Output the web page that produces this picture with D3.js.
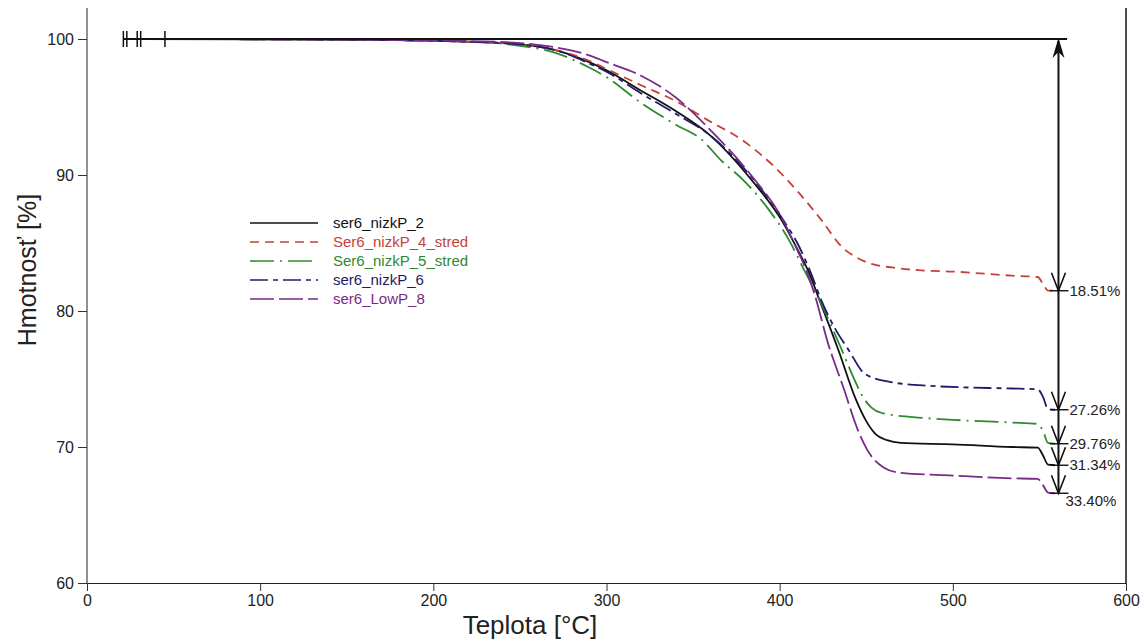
<!doctype html>
<html lang="cs">
<head>
    <title>TGA ser6</title>
    <script src="https://d3js.org/d3.v7.min.js"></script>
    <style>
        body { margin: 0; background: #fff; }
        svg text { font-family: "Liberation Sans", Arial, sans-serif; fill: #222; }
    </style>
</head>
<body>
<script>
    // Series names, colours and dash styles
    var names   = ["ser6_nizkP_2", "Ser6_nizkP_4_stred", "Ser6_nizkP_5_stred", "ser6_nizkP_6", "ser6_LowP_8"];
    var colors  = ["#111111", "#c7403a", "#2f8a2f", "#1c1c6a", "#7a2a88"];
    var dashes  = ["none", "9,6", "24,6,2,6", "18,5,5,5", "24,5"];

    // [temperature °C, mass %]
    var nizkP2 = [[29,100],[150,99.95],[220,99.8],[250,99.6],[270,99.2],[290,98.3],[300,97.7],[320,96.2],[340,94.7],[360,92.9],[384,89.6],[401,86.7],[410,84.6],[417,82.8],[423,80.8],[434,77.1],[444,73.5],[450,71.9],[455,71.0],[462,70.5],[470,70.3],[500,70.2],[534,70.0],[549,69.95],[552,69.4],[555,68.7],[559,68.66]];
    var nizkP4 = [[45,100],[150,99.95],[220,99.8],[250,99.6],[270,99.2],[290,98.4],[300,97.8],[320,96.6],[339,95.5],[359,94.0],[378,92.6],[397,90.6],[411,88.7],[424,86.7],[436,84.7],[445,83.9],[452,83.5],[465,83.2],[480,83.0],[500,82.9],[534,82.6],[549,82.5],[552,82.0],[555,81.5],[559,81.49]];
    var nizkP5 = [[23,100],[150,99.95],[220,99.8],[250,99.5],[270,99.0],[290,97.9],[300,97.2],[320,95.3],[340,93.7],[355,92.6],[366,91.1],[380,89.5],[394,87.4],[405,85.3],[415,82.8],[423,80.8],[436,77.1],[443,75.0],[448,73.7],[453,72.9],[459,72.5],[477,72.2],[500,72.0],[534,71.8],[549,71.7],[552,71.2],[555,70.3],[559,70.24]];
    var nizkP6 = [[31,100],[150,99.95],[220,99.8],[250,99.6],[270,99.2],[290,98.2],[300,97.6],[320,96.0],[340,94.5],[360,92.9],[384,89.8],[401,86.9],[411,84.8],[418,82.8],[424,80.8],[432,78.7],[440,77.1],[449,75.4],[463,74.8],[486,74.5],[534,74.3],[549,74.25],[552,73.7],[555,72.8],[559,72.74]];
    var lowP8  = [[21,100],[150,99.95],[220,99.85],[250,99.7],[270,99.4],[290,98.8],[300,98.3],[320,97.3],[340,95.7],[360,93.3],[384,89.9],[401,86.9],[409,84.8],[416,82.8],[420,81.3],[428,77.6],[437,74.3],[445,71.3],[452,69.5],[460,68.5],[470,68.1],[500,67.9],[534,67.7],[549,67.65],[552,67.2],[555,66.65],[559,66.6]];
    var series = [nizkP2, nizkP4, nizkP5, nizkP6, lowP8];

    // Mass losses shown on the right
    var losses = [18.51, 27.26, 29.76, 31.34, 33.40];
    var arrowT = 561;
    var baseEnd = 566;

    var xTicks = [0, 100, 200, 300, 400, 500, 600];
    var yTicks = [60, 70, 80, 90, 100];

    var width = 1147, height = 641;
    var svg = d3.select("body").append("svg")
        .attr("width", width)
        .attr("height", height);

    var x = d3.scaleLinear().domain([0, 600]).range([87, 1126]);
    var y = d3.scaleLinear().domain([60, 102.28]).range([583, 8]);

    // Axes
    var xAxis = svg.append("g").attr("transform", "translate(0," + y(60) + ")");
    xAxis.call(d3.axisBottom(x).tickValues(d3.range(0, 601, 25)).tickSize(5).tickFormat(""));
    xAxis.call(d3.axisBottom(x).tickValues(xTicks).tickSize(8).tickPadding(4));
    xAxis.selectAll(".domain").attr("stroke", "#222");
    xAxis.selectAll("line").attr("stroke", "#333");
    xAxis.selectAll("text").style("font-size", "16px").attr("fill", "#222");

    var yAxis = svg.append("g").attr("transform", "translate(" + x(0) + ",0)");
    yAxis.call(d3.axisLeft(y).tickValues(d3.range(60, 102.5, 2.5)).tickSize(6).tickFormat(""));
    yAxis.call(d3.axisLeft(y).tickValues(yTicks).tickSize(9).tickPadding(4));
    yAxis.selectAll(".domain").attr("stroke", "#222").attr("d", "M0," + y(102.28) + "V" + y(60));
    yAxis.selectAll("line").attr("stroke", "#333");
    yAxis.selectAll("text").style("font-size", "16px").attr("fill", "#222");

    // Right frame line
    svg.append("line")
        .attr("x1", x(600)).attr("x2", x(600))
        .attr("y1", y(102.28)).attr("y2", y(60))
        .attr("stroke", "#111").attr("stroke-width", 1.5);

    // Axis titles
    svg.append("text")
        .attr("x", 530).attr("y", 634)
        .attr("text-anchor", "middle")
        .style("font-size", "26px")
        .text("Teplota [°C]");

    svg.append("text")
        .attr("transform", "translate(36,270) rotate(-90)")
        .attr("text-anchor", "middle")
        .style("font-size", "25px")
        .text("Hmotnosť [%]");

    // Curves
    var line = d3.line()
        .x(function(d) { return x(d[0]); })
        .y(function(d) { return y(d[1]); })
        .curve(d3.curveMonotoneX);

    svg.selectAll(".curve")
        .data(series)
        .enter()
        .append("path")
        .attr("class", "curve")
        .attr("d", line)
        .attr("fill", "none")
        .attr("stroke", function(d, i) { return colors[i]; })
        .attr("stroke-width", 1.8)
        .attr("stroke-dasharray", function(d, i) { return dashes[i]; });

    // 100 % baseline with start markers
    var startT = series.map(function(s) { return s[0][0]; });
    svg.append("line")
        .attr("x1", x(d3.min(startT))).attr("x2", x(baseEnd))
        .attr("y1", y(100)).attr("y2", y(100))
        .attr("stroke", "#111").attr("stroke-width", 2);
    svg.selectAll(".start")
        .data(startT)
        .enter()
        .append("line")
        .attr("x1", function(d) { return x(d); }).attr("x2", function(d) { return x(d); })
        .attr("y1", y(100) - 8).attr("y2", y(100) + 8)
        .attr("stroke", "#111").attr("stroke-width", 1.5);

    // Mass loss arrow
    var levels = losses.map(function(l) { return 100 - l; });
    var ax = x(arrowT);
    svg.append("line")
        .attr("x1", ax).attr("x2", ax)
        .attr("y1", y(100) + 2).attr("y2", y(d3.min(levels)))
        .attr("stroke", "#111").attr("stroke-width", 2);
    svg.append("path")
        .attr("d", "M" + ax + "," + (y(100) - 1) + "L" + (ax - 6) + "," + (y(100) + 19) + "L" + ax + "," + (y(100) + 13) + "L" + (ax + 6) + "," + (y(100) + 19) + "Z")
        .attr("fill", "#111");

    var marks = svg.selectAll(".loss")
        .data(losses)
        .enter()
        .append("g")
        .attr("class", "loss");

    marks.append("path")
        .attr("d", function(d) {
            var yy = y(100 - d);
            return "M" + (ax - 7) + "," + (yy - 18) + "L" + ax + "," + yy + "L" + (ax + 7) + "," + (yy - 18);
        })
        .attr("fill", "none")
        .attr("stroke", "#111")
        .attr("stroke-width", 1.6);

    marks.append("line")
        .attr("x1", x(556)).attr("x2", ax + 10)
        .attr("y1", function(d) { return y(100 - d); })
        .attr("y2", function(d) { return y(100 - d); })
        .attr("stroke", "#111").attr("stroke-width", 1.4);

    marks.append("text")
        .attr("x", function(d, i) { return i === 4 ? ax + 7 : ax + 11; })
        .attr("y", function(d, i) { return y(100 - d) + (i === 4 ? 8 : 0); })
        .attr("dy", "0.35em")
        .style("font-size", "15px")
        .text(function(d) { return d.toFixed(2) + "%"; });

    // Legend
    var legend = svg.selectAll(".legend")
        .data(names)
        .enter()
        .append("g")
        .attr("class", "legend")
        .attr("transform", function(d, i) { return "translate(250," + (223 + i * 19) + ")"; });

    legend.append("line")
        .attr("x1", 0).attr("x2", 68)
        .attr("stroke", function(d, i) { return colors[i]; })
        .attr("stroke-width", 1.6)
        .attr("stroke-dasharray", function(d, i) { return dashes[i]; });

    legend.append("text")
        .attr("x", 83)
        .attr("dy", "0.35em")
        .style("font-size", "15px")
        .style("fill", function(d, i) { return i === 0 ? "#111" : colors[i]; })
        .text(function(d) { return d; });
</script>
</body>
</html>
